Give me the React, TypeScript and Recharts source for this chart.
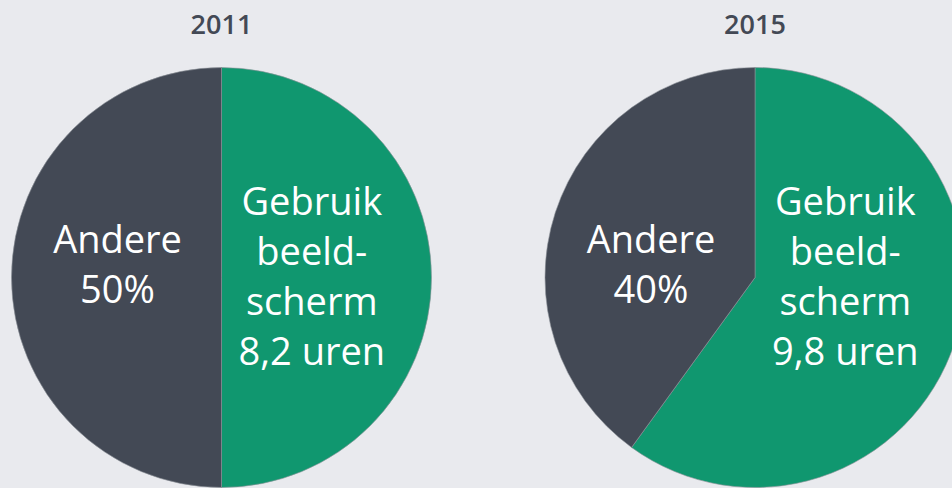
import { PieChart, Pie, Cell } from "recharts";

const years = ["2011", "2015"];
const sliceNames = ["Gebruik beeldscherm", "Andere"];
const shares2011 = [50, 50];
const shares2015 = [60, 40];
const screenHours = [8.2, 9.8];

const GREEN = "#10976f";
const DARK = "#434955";
const BG = "#e9eaee";

const WIDTH = 952;
const HEIGHT = 488;
const RADIUS = 210;
const CY = 277.5;
const CENTERS = [221.5, 755];

function formatHours(value: number) {
    return `${value.toFixed(1).replace(".", ",")} uren`;
}

function buildData(shares: number[], hours: number) {
    return sliceNames.map((name, i) => ({
        name,
        value: shares[i],
        lines:
            i === 0
                ? ["Gebruik", "beeld-", "scherm", formatHours(hours)]
                : ["Andere", `${shares[i]}%`],
    }));
}

const datasets = [
    buildData(shares2011, screenHours[0]),
    buildData(shares2015, screenHours[1]),
];

function SliceLabel(props: any) {
    const { cx, cy, outerRadius, index, payload } = props;
    const lines: string[] = payload?.lines ?? props.lines ?? [];
    const isGreen = index === 0;
    const x = cx + (isGreen ? 0.43 : -0.495) * outerRadius;
    const lineHeight = 50;
    const offset = isGreen ? 12.5 : 0;
    const top = cy - ((lines.length - 1) / 2) * lineHeight + offset;
    return (
        <text
            x={x}
            y={top}
            textAnchor="middle"
            fill="#ffffff"
            fontSize={38}
            fontWeight={500}
            fontFamily="'Open Sans', 'Noto Sans', sans-serif"
        >
            {lines.map((line, i) => (
                <tspan key={i} x={x} y={top + i * lineHeight}>
                    {line}
                </tspan>
            ))}
        </text>
    );
}

export default function App() {
    return (
        <div
            style={{
                position: "absolute",
                left: 0,
                top: 0,
                width: WIDTH,
                height: HEIGHT,
                background: BG,
                overflow: "hidden",
            }}
        >
            {years.map((year, i) => (
                <div
                    key={year}
                    style={{
                        position: "absolute",
                        left: CENTERS[i] - 60,
                        width: 120,
                        top: 6,
                        textAlign: "center",
                        fontFamily: "'Open Sans', 'Noto Sans', sans-serif",
                        fontWeight: 600,
                        fontSize: 27,
                        lineHeight: "36px",
                        color: DARK,
                    }}
                >
                    {year}
                </div>
            ))}
            <PieChart
                width={WIDTH}
                height={HEIGHT}
                margin={{ top: 0, right: 0, bottom: 0, left: 0 }}
            >
                {datasets.map((data, i) => (
                    <Pie
                        key={years[i]}
                        data={data}
                        dataKey="value"
                        nameKey="name"
                        cx={CENTERS[i]}
                        cy={CY}
                        outerRadius={RADIUS}
                        startAngle={90}
                        endAngle={-270}
                        stroke="#8d9299"
                        strokeWidth={0.6}
                        label={SliceLabel}
                        labelLine={false}
                        isAnimationActive={false}
                    >
                        {data.map((entry, j) => (
                            <Cell key={entry.name} fill={j === 0 ? GREEN : DARK} />
                        ))}
                    </Pie>
                ))}
            </PieChart>
        </div>
    );
}
